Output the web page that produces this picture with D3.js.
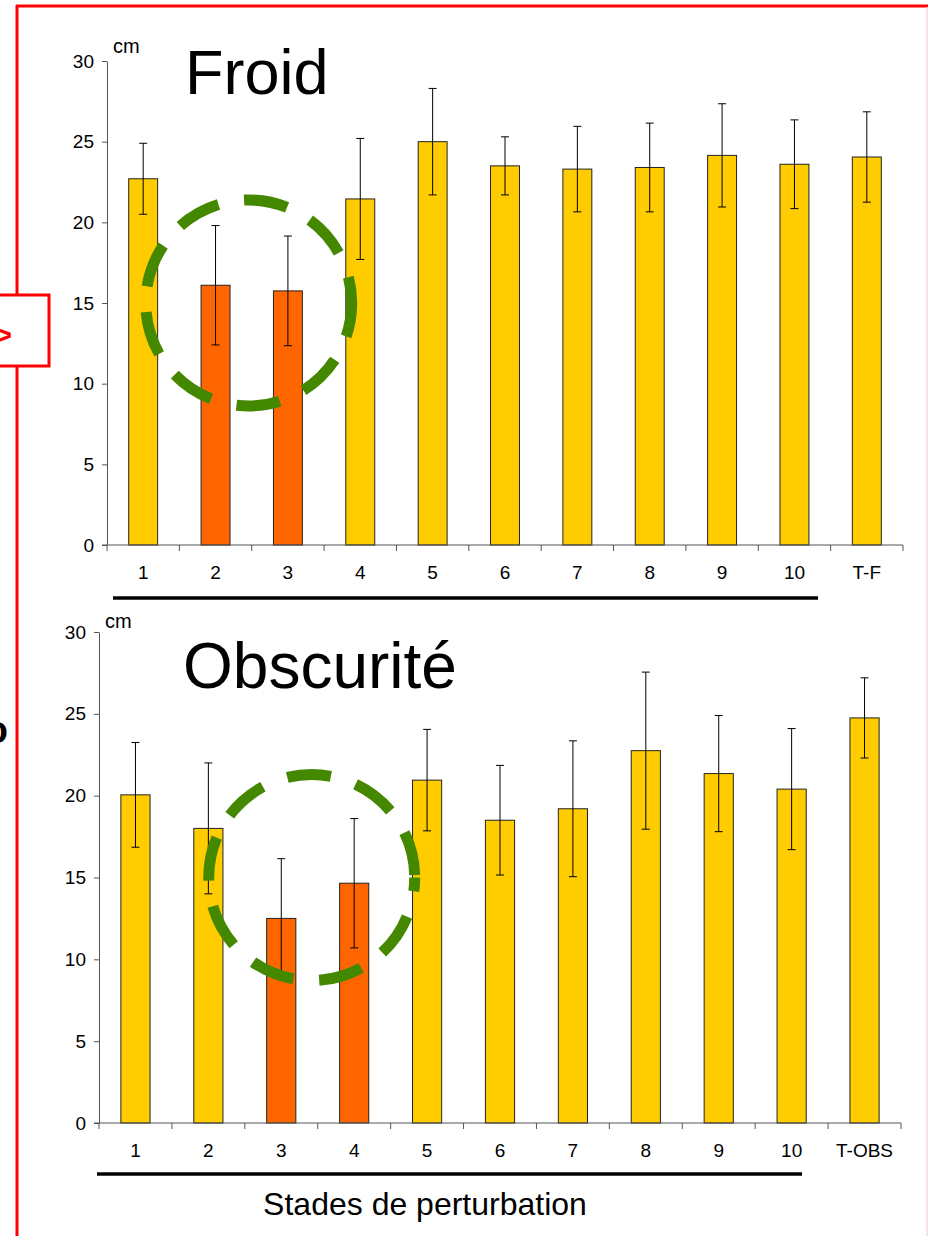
<!DOCTYPE html>
<html>
<head>
<meta charset="utf-8">
<script src="https://cdn.jsdelivr.net/npm/d3@7"></script>
<style>
  html, body { margin: 0; padding: 0; background: #fff; }
  svg { display: block; font-family: Arial, "Liberation Sans", sans-serif; }
</style>
</head>
<body>
<svg id="chart" width="928" height="1236"></svg>
<script>
// ---- Data ----
const categoriesFroid = ["1","2","3","4","5","6","7","8","9","10","T-F"];
const valuesFroid     = [22.7, 16.1, 15.75, 21.45, 25.0, 23.5, 23.3, 23.4, 24.15, 23.6, 24.05];
const sdFroid         = [2.2, 3.7, 3.4, 3.75, 3.3, 1.8, 2.65, 2.75, 3.2, 2.75, 2.8];
const highlightFroid  = ["2","3"];

const categoriesObs = ["1","2","3","4","5","6","7","8","9","10","T-OBS"];
const valuesObs     = [20.05, 18.0, 12.5, 14.65, 20.95, 18.5, 19.2, 22.75, 21.35, 20.4, 24.75];
const sdObs         = [3.2, 4.0, 3.65, 3.95, 3.1, 3.35, 4.15, 4.8, 3.55, 3.7, 2.45];
const highlightObs  = ["3","4"];

const yTicks = [0, 5, 10, 15, 20, 25, 30];
const titles = ["Froid", "Obscurité"];
const xTitle = "Stades de perturbation";
const unitLabel = "cm";

// ---- Drawing ----
const svg = d3.select("#chart");
const YELLOW = "#FFCC00", ORANGE = "#FF6600", GREEN = "#448800";
const FONT = "Arial, 'Liberation Sans', sans-serif";

// red frame
svg.append("line").attr("x1", 16).attr("x2", 928).attr("y1", 6).attr("y2", 6)
  .attr("stroke", "#ff0000").attr("stroke-width", 3);
svg.append("line").attr("x1", 17).attr("x2", 17).attr("y1", 5).attr("y2", 294)
  .attr("stroke", "#ff0000").attr("stroke-width", 3);
svg.append("line").attr("x1", 17).attr("x2", 17).attr("y1", 367).attr("y2", 1236)
  .attr("stroke", "#ff0000").attr("stroke-width", 3);
svg.append("line").attr("x1", 927).attr("x2", 927).attr("y1", 7).attr("y2", 1236)
  .attr("stroke", "#f6d8d8").attr("stroke-width", 1.5);
svg.append("rect").attr("x", -10).attr("y", 295).attr("width", 59).attr("height", 71)
  .attr("fill", "#fff").attr("stroke", "#ff0000").attr("stroke-width", 3);
svg.append("text").attr("x", 12).attr("y", 345).attr("text-anchor", "end")
  .attr("font-size", 30).attr("font-weight", "bold").attr("fill", "#ff0000").text(">");
svg.append("text").attr("x", 8).attr("y", 743).attr("text-anchor", "end")
  .attr("font-size", 38).attr("font-weight", "bold").attr("fill", "#000").text("o");

function drawPanel(cfg) {
  const g = svg.append("g");
  const x = d3.scaleBand().domain(cfg.categories).range([cfg.x0, cfg.x1]).padding(0);
  const y = d3.scaleLinear().domain([0, 30]).range([cfg.yBottom, cfg.yTop]);
  const bw = x.bandwidth() * 0.4;
  const data = cfg.categories.map((c, i) => ({c, v: cfg.values[i], sd: cfg.sd[i]}));

  // bars
  g.selectAll("rect.bar").data(data).join("rect")
    .attr("class", "bar")
    .attr("x", d => x(d.c) + (x.bandwidth() - bw) / 2)
    .attr("width", bw)
    .attr("y", d => y(d.v))
    .attr("height", d => y(0) - y(d.v))
    .attr("fill", d => cfg.highlight.includes(d.c) ? ORANGE : YELLOW)
    .attr("stroke", "#222").attr("stroke-width", 1);

  // error bars
  const eg = g.selectAll("g.err").data(data).join("g").attr("class", "err")
    .attr("stroke", "#000").attr("stroke-width", 1);
  const cx = d => x(d.c) + x.bandwidth() / 2;
  eg.append("line").attr("x1", cx).attr("x2", cx)
    .attr("y1", d => y(d.v + d.sd)).attr("y2", d => y(d.v - d.sd));
  eg.append("line").attr("x1", d => cx(d) - 4).attr("x2", d => cx(d) + 4)
    .attr("y1", d => y(d.v + d.sd)).attr("y2", d => y(d.v + d.sd));
  eg.append("line").attr("x1", d => cx(d) - 4).attr("x2", d => cx(d) + 4)
    .attr("y1", d => y(d.v - d.sd)).attr("y2", d => y(d.v - d.sd));

  // y axis
  const ya = g.append("g").attr("transform", `translate(${cfg.x0},0)`)
    .call(d3.axisLeft(y).tickValues(yTicks).tickSize(5).tickPadding(8).tickSizeOuter(0));
  ya.attr("font-size", 19).attr("font-family", FONT);
  ya.select(".domain").attr("stroke", "#555");
  ya.selectAll(".tick line").attr("stroke", "#555");
  ya.selectAll("text").attr("font-size", 19).attr("fill", "#000").attr("font-family", FONT);

  // x axis: ticks at category boundaries
  g.append("line").attr("x1", cfg.x0 - 5).attr("x2", cfg.x1)
    .attr("y1", y(0)).attr("y2", y(0)).attr("stroke", "#555");
  const bounds = cfg.categories.map(c => x(c)).concat([cfg.x1]);
  g.selectAll("line.xt").data(bounds).join("line").attr("class", "xt")
    .attr("x1", d => d).attr("x2", d => d)
    .attr("y1", y(0)).attr("y2", y(0) + 6).attr("stroke", "#555");
  g.selectAll("text.xl").data(cfg.categories).join("text").attr("class", "xl")
    .attr("x", d => x(d) + x.bandwidth() / 2).attr("y", y(0) + 34)
    .attr("text-anchor", "middle").attr("font-size", 19).attr("fill", "#000")
    .text(d => d);

  // unit label
  g.append("text").attr("x", cfg.x0 + cfg.cmDx).attr("y", y(30) + cfg.cmDy)
    .attr("font-size", 20).text(unitLabel);

  // title
  g.append("text").attr("x", cfg.titleX).attr("y", cfg.titleY)
    .attr("font-size", cfg.titleSize).attr("fill", "#000").text(cfg.title);

  // underline bar
  g.append("line").attr("x1", cfg.ulX0).attr("x2", cfg.ulX1)
    .attr("y1", cfg.ulY).attr("y2", cfg.ulY).attr("stroke", "#000").attr("stroke-width", 3.5);

  // dashed green circle around highlighted stages
  const hc = (x(cfg.highlight[0]) + x(cfg.highlight[1]) + x.bandwidth()) / 2 + cfg.circleDx;
  g.append("circle").attr("cx", hc).attr("cy", y(15)).attr("r", 103)
    .attr("fill", "none").attr("stroke", GREEN).attr("stroke-width", 11)
    .attr("stroke-dasharray", "44,26").attr("stroke-dashoffset", cfg.dashOffset);
}

drawPanel({
  categories: categoriesFroid, values: valuesFroid, sd: sdFroid, highlight: highlightFroid,
  x0: 107, x1: 903, yTop: 61, yBottom: 545, title: titles[0], titleX: 185, titleY: 94, titleSize: 63,
  cmDx: 6, cmDy: -8, ulX0: 113, ulX1: 818, ulY: 598, circleDx: -3, dashOffset: 10
});
drawPanel({
  categories: categoriesObs, values: valuesObs, sd: sdObs, highlight: highlightObs,
  x0: 99, x1: 901, yTop: 632, yBottom: 1123, title: titles[1], titleX: 183, titleY: 688, titleSize: 64,
  cmDx: 6, cmDy: -4, ulX0: 97, ulX1: 802, ulY: 1174, circleDx: -6, dashOffset: 30
});

svg.append("text").attr("x", 425).attr("y", 1215).attr("text-anchor", "middle")
  .attr("font-size", 32).attr("fill", "#000").text(xTitle);
</script>
</body>
</html>
